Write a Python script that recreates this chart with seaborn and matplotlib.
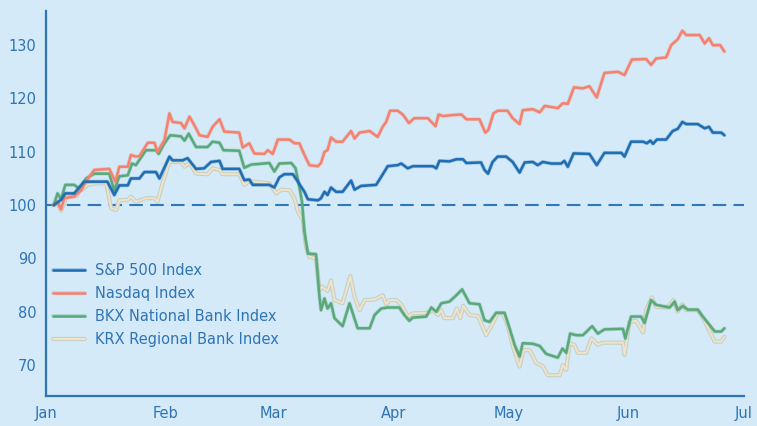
import matplotlib
matplotlib.use("Agg")
import matplotlib.pyplot as plt
import matplotlib.dates as mdates
import matplotlib.patheffects as pe
import seaborn as sns
import numpy as np
import pandas as pd

# days counted from 1 Jan 2023, values indexed to 100 at the start of the year
sp_days = [2.0, 3.9, 5.0, 7.3, 9.9, 15.9, 17.7, 19.0, 21.2, 22.0, 24.2, 25.5, 28.5, 29.4, 32.0, 32.8,
           35.4, 36.7, 38.9, 41.0, 42.8, 45.0, 45.8, 50.1, 51.4, 52.7, 53.6, 57.9, 59.2, 60.5, 61.8,
           64.0, 65.3, 67.0, 67.9, 70.5, 71.3, 72.2, 73.0, 73.9, 75.2, 76.9, 79.1, 80.0, 81.7, 85.6,
           86.9, 88.6, 91.2, 92.1, 93.8, 95.1, 100.3, 101.2, 102.0, 104.6, 106.4, 108.1, 109.0, 112.8,
           113.7, 114.6, 115.8, 117.1, 119.3, 121.0, 122.8, 124.1, 126.2, 127.5, 128.8, 131.0, 133.6,
           134.4, 135.3, 136.8, 140.9, 142.8, 144.8, 149.2, 150.0, 151.7, 154.8, 155.8, 156.7, 157.4,
           158.4, 160.8, 162.5, 163.8, 165.0, 166.0, 169.0, 170.8, 171.9, 172.9, 175.1, 175.9]
sp_vals = [100.0, 101.0, 102.2, 102.2, 104.4, 104.4, 101.9, 103.7, 103.7, 105.0, 105.0, 106.2, 106.2,
           105.0, 109.1, 108.4, 108.4, 108.8, 106.8, 106.9, 108.1, 108.3, 106.8, 106.8, 104.7, 104.8,
           103.8, 103.8, 103.3, 105.2, 105.8, 105.8, 104.4, 102.5, 101.1, 100.9, 101.3, 102.5, 101.9,
           103.3, 102.5, 102.5, 104.6, 102.9, 103.6, 103.8, 105.3, 107.3, 107.5, 107.8, 106.9, 107.3,
           107.3, 106.9, 108.3, 108.2, 108.6, 108.6, 107.9, 108.0, 106.6, 105.9, 108.1, 109.1, 109.1,
           108.1, 106.1, 108.0, 108.1, 107.5, 108.1, 107.8, 107.8, 108.3, 107.2, 109.7, 109.6, 107.5,
           109.8, 109.8, 109.1, 111.9, 111.9, 111.6, 112.1, 111.5, 112.3, 112.3, 113.9, 114.3, 115.6,
           115.2, 115.2, 114.4, 114.7, 113.6, 113.6, 113.1]

nq_days = [2.0, 3.0, 3.9, 4.7, 7.3, 9.1, 10.4, 12.5, 16.4, 18.0, 19.0, 21.2, 22.0, 23.3, 24.2, 26.4,
           28.1, 28.9, 30.7, 32.0, 32.8, 35.0, 35.9, 37.2, 38.9, 39.8, 41.9, 43.2, 45.0, 46.2, 50.1,
           51.0, 52.7, 54.0, 56.6, 57.5, 58.8, 60.1, 63.1, 64.4, 65.7, 67.0, 68.3, 70.5, 71.3, 72.2,
           73.0, 73.9, 75.2, 76.9, 79.1, 80.0, 81.3, 83.9, 86.0, 87.3, 88.2, 89.2, 91.2, 92.5, 94.1,
           95.5, 99.0, 101.0, 101.8, 102.9, 105.5, 107.7, 109.0, 112.4, 113.9, 114.7, 116.0, 117.1,
           119.7, 121.0, 122.8, 123.6, 126.2, 128.0, 129.3, 131.0, 132.7, 134.0, 135.3, 136.9, 139.2,
           140.9, 142.8, 144.8, 148.3, 150.0, 151.9, 155.6, 156.9, 158.2, 160.8, 162.1, 163.8, 165.0,
           166.0, 169.5, 170.8, 171.9, 172.9, 174.8, 175.9]
nq_vals = [100.0, 100.6, 99.2, 101.3, 101.6, 102.8, 104.5, 106.6, 106.8, 104.4, 107.2, 107.2, 109.4,
           109.1, 109.2, 111.7, 111.7, 110.0, 112.2, 117.2, 115.6, 115.4, 114.4, 116.6, 114.4, 113.1,
           112.8, 114.7, 116.1, 113.8, 113.6, 110.8, 111.6, 109.7, 109.6, 110.3, 109.6, 112.3, 112.3,
           111.6, 111.6, 109.4, 107.5, 107.3, 107.9, 110.0, 110.3, 112.7, 111.9, 111.9, 113.9, 112.5,
           113.6, 113.9, 112.8, 114.7, 115.6, 117.7, 117.7, 117.0, 115.4, 116.3, 116.3, 114.8, 117.0,
           116.7, 116.9, 117.0, 116.1, 116.1, 113.6, 114.1, 117.2, 117.7, 117.7, 116.3, 115.2, 117.8,
           118.0, 117.4, 118.6, 118.4, 118.2, 119.1, 119.0, 122.1, 121.9, 122.3, 120.2, 124.8, 125.0,
           124.4, 127.3, 127.4, 126.3, 127.5, 127.7, 130.0, 131.1, 132.7, 131.9, 131.9, 130.3, 131.3,
           130.0, 130.0, 128.8]

bkx_days = [2.0, 3.0, 3.9, 5.0, 7.3, 8.6, 10.4, 12.5, 16.4, 17.7, 19.0, 21.2, 22.3, 23.3, 25.9, 28.5,
            29.2, 30.7, 32.2, 35.0, 35.9, 37.0, 38.9, 41.9, 43.2, 45.0, 46.0, 50.1, 51.4, 53.2, 57.9,
            59.2, 60.5, 63.6, 64.7, 65.7, 66.4, 67.0, 67.9, 70.0, 70.9, 71.3, 72.2, 73.0, 73.9, 74.8,
            76.9, 78.7, 80.8, 83.9, 85.2, 86.9, 88.6, 91.6, 92.9, 94.2, 95.1, 98.6, 99.9, 101.2, 102.5,
            104.6, 106.4, 107.9, 109.8, 112.4, 113.7, 115.0, 116.7, 118.9, 120.2, 121.5, 122.8, 123.6,
            126.2, 128.0, 129.7, 132.7, 133.9, 134.9, 135.9, 137.5, 139.2, 141.6, 143.1, 144.8, 149.6,
            150.2, 151.7, 154.3, 155.2, 156.9, 158.2, 161.7, 163.0, 163.8, 165.1, 166.4, 169.0, 170.3,
            172.1, 173.4, 175.1, 175.9]
bkx_vals = [100.0, 102.2, 101.1, 103.8, 103.8, 103.1, 105.0, 105.9, 105.9, 102.8, 105.4, 105.6, 107.8,
            107.5, 110.3, 110.3, 109.6, 111.6, 113.1, 112.9, 112.1, 113.4, 110.9, 110.9, 111.9, 111.7,
            110.3, 110.2, 107.0, 107.6, 107.9, 106.3, 107.8, 107.9, 106.9, 103.4, 100.5, 95.0, 90.9,
            90.8, 82.8, 80.3, 82.5, 80.6, 81.6, 78.8, 77.3, 81.6, 76.9, 76.9, 79.4, 80.6, 80.8, 80.8,
            79.4, 78.3, 78.9, 79.1, 80.8, 80.0, 81.6, 81.9, 83.1, 84.2, 81.6, 81.4, 78.4, 78.1, 79.8,
            79.8, 76.9, 73.8, 71.6, 74.1, 74.0, 73.6, 72.1, 71.4, 73.1, 72.3, 75.9, 75.6, 75.6, 77.3,
            75.9, 76.7, 76.8, 75.0, 79.1, 79.1, 77.9, 82.2, 81.3, 80.8, 81.9, 80.3, 81.1, 80.4, 80.4,
            79.1, 77.5, 76.3, 76.3, 76.9]

krx_days = [2.0, 3.0, 3.9, 5.3, 7.9, 8.6, 10.8, 13.0, 15.6, 16.9, 18.2, 19.0, 21.2, 22.0, 23.3, 25.9,
            28.1, 28.9, 30.2, 32.0, 35.0, 35.9, 37.2, 38.9, 41.9, 43.2, 45.0, 45.8, 50.1, 51.4, 52.7,
            57.9, 59.7, 61.0, 63.1, 64.4, 65.3, 66.6, 67.4, 68.3, 70.0, 70.9, 71.6, 73.0, 73.9, 74.8,
            76.9, 78.9, 80.0, 81.3, 82.6, 85.2, 86.5, 87.3, 88.2, 89.1, 90.8, 92.1, 93.8, 95.1, 99.0,
            100.3, 101.6, 102.5, 103.3, 105.5, 106.5, 107.4, 108.2, 109.8, 112.0, 114.1, 115.4, 117.1,
            118.4, 119.7, 121.2, 122.8, 123.8, 125.4, 127.1, 128.8, 130.1, 133.2, 134.0, 134.9, 135.7,
            137.0, 137.9, 140.1, 141.4, 143.1, 144.4, 149.6, 150.0, 151.3, 153.0, 154.8, 155.6, 157.1,
            158.2, 161.2, 162.7, 163.8, 165.0, 166.0, 169.0, 170.3, 172.1, 173.4, 175.1, 175.9]
krx_vals = [100.0, 100.3, 98.9, 101.6, 101.7, 102.5, 103.8, 104.1, 104.1, 99.4, 99.1, 100.9, 101.0,
            101.6, 100.6, 101.3, 101.3, 100.6, 104.1, 108.1, 108.1, 107.2, 107.9, 105.9, 105.8, 106.9,
            106.6, 105.8, 105.8, 103.8, 104.5, 104.1, 102.2, 102.9, 102.8, 101.3, 98.8, 97.2, 92.2,
            90.3, 90.0, 84.1, 84.7, 83.9, 85.9, 82.2, 81.6, 86.7, 82.8, 80.3, 82.2, 82.3, 82.8, 83.1,
            81.4, 82.2, 82.2, 81.4, 79.1, 79.7, 79.8, 80.3, 79.4, 80.3, 78.8, 78.8, 80.6, 78.8, 81.1,
            79.4, 79.2, 75.6, 77.2, 79.7, 79.7, 77.5, 73.1, 69.7, 72.8, 72.8, 70.4, 69.8, 68.1, 68.1,
            70.0, 69.1, 74.1, 73.8, 72.3, 72.3, 75.0, 73.8, 74.2, 74.2, 71.9, 78.1, 78.3, 76.1, 80.3,
            82.7, 80.9, 80.8, 82.2, 80.0, 81.4, 80.3, 80.3, 78.9, 76.3, 74.4, 74.4, 75.3]

labels = ["S&P 500 Index", "Nasdaq Index", "BKX National Bank Index", "KRX Regional Bank Index"]
colors = ["#1f6db3", "#f5826f", "#5aa97a", "#efe4c8"]
month_ticks = ["2023-01-01", "2023-02-01", "2023-03-01", "2023-04-01",
               "2023-05-01", "2023-06-01", "2023-07-01"]

start = pd.Timestamp("2023-01-01")


def to_frame(days, vals):
    return pd.DataFrame({"date": start + pd.to_timedelta(days, unit="D"), "value": vals})


series = [to_frame(sp_days, sp_vals), to_frame(nq_days, nq_vals),
          to_frame(bkx_days, bkx_vals), to_frame(krx_days, krx_vals)]

bg = "#d4eaf8"
txt = "#2f74b5"

sns.set_style("white")
plt.rcParams["font.family"] = ["DejaVu Sans"]

fig = plt.figure(figsize=(7.57, 4.26), dpi=100, facecolor=bg)
ax = fig.add_axes([0.0608, 0.0704, 0.9221, 0.9037])
ax.set_facecolor(bg)

ax.axhline(100, color="#2f78bb", lw=1.5, linestyle=(0, (6.5, 3.5)), zorder=1)

for i, (df, lab, col) in enumerate(zip(series, labels, colors)):
    if lab.startswith("KRX"):
        effects = [pe.Stroke(linewidth=3.0, foreground="#c8cfc6"), pe.Normal()]
        sns.lineplot(data=df, x="date", y="value", ax=ax, color=col, lw=1.4, label=lab,
                     zorder=2, path_effects=effects)
    else:
        effects = [pe.Stroke(linewidth=2.8, foreground=col, alpha=0.3), pe.Normal()]
        sns.lineplot(data=df, x="date", y="value", ax=ax, color=col, lw=1.8, label=lab,
                     zorder=3 + (3 - i), path_effects=effects)

ax.set_xlim(pd.Timestamp("2023-01-01"), pd.Timestamp("2023-07-01"))
ax.set_ylim(64.2, 136.4)
ax.set_xticks(pd.to_datetime(month_ticks))
ax.xaxis.set_major_formatter(mdates.DateFormatter("%b"))
ax.set_yticks([70, 80, 90, 100, 110, 120, 130])
ax.set_xlabel("")
ax.set_ylabel("")

for side in ["top", "right"]:
    ax.spines[side].set_visible(False)
for side in ["left", "bottom"]:
    ax.spines[side].set_color(txt)
    ax.spines[side].set_linewidth(1.6)
ax.tick_params(axis="both", colors=txt, labelsize=10.5, length=4, width=1.4, direction="out", pad=3)

leg = ax.legend(loc="center left", bbox_to_anchor=(0.01, 0.236), frameon=False, fontsize=10.5,
                handlelength=2.2, handletextpad=0.7, labelspacing=0.55, borderpad=0, borderaxespad=0)
for t in leg.get_texts():
    t.set_color(txt)

fig.savefig("out.png", dpi=100, facecolor=bg)
